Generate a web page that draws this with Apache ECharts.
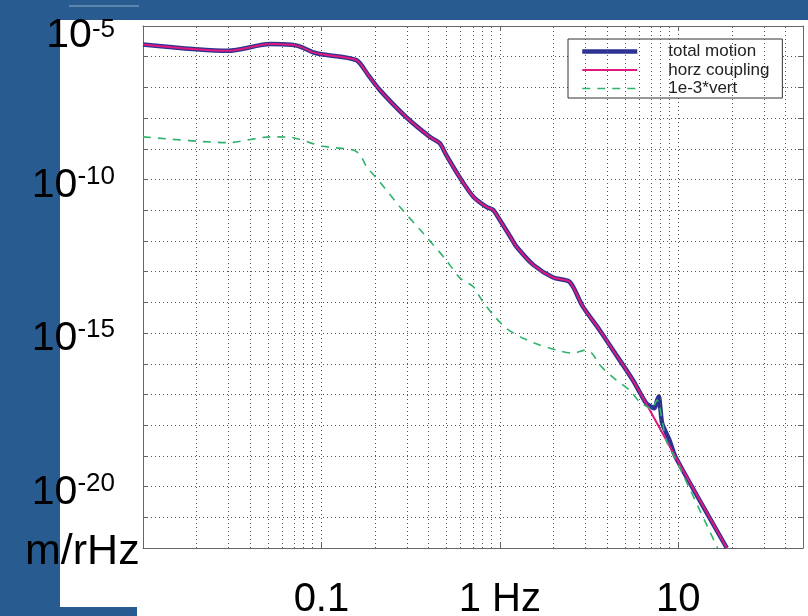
<!DOCTYPE html>
<html><head><meta charset="utf-8">
<script src="https://cdn.jsdelivr.net/npm/echarts@6/dist/echarts.min.js"></script>
<style>html,body{margin:0;padding:0;background:#285b8f;} #c{width:808px;height:616px;}</style>
</head><body><div id="c"></div>
<script>
// Frequencies in Hz; amplitudes as log10(m/rHz)
const freqTotal = [0.01,0.03,0.0516,0.068,0.076,0.090,0.1,0.157,0.183,0.212,0.30,0.405,0.461,0.50,0.60,0.71,0.84,0.917,1.0,1.16,1.24,1.54,1.99,2.41,2.57,2.92,3.62,4.30,5.56,6.61,7.05,7.36,7.6,7.78,7.95,8.13,8.93,9.64,18.7];
const totalLog = [-5.60,-5.81,-5.59,-5.61,-5.67,-5.86,-5.92,-6.11,-6.60,-7.08,-7.98,-8.61,-8.82,-9.20,-9.96,-10.56,-10.89,-10.99,-11.32,-11.92,-12.19,-12.78,-13.19,-13.30,-13.49,-14.14,-14.90,-15.55,-16.53,-17.29,-17.40,-17.45,-17.20,-17.07,-17.50,-17.95,-18.49,-19.03,-22.0];

const freqHorz = [0.01,0.03,0.0516,0.068,0.076,0.090,0.1,0.157,0.183,0.212,0.30,0.405,0.461,0.50,0.60,0.71,0.84,0.917,1.0,1.16,1.24,1.54,1.99,2.41,2.57,2.92,3.62,4.30,5.56,7.36,9.64,18.7];
const horzLog = [-5.60,-5.81,-5.59,-5.61,-5.67,-5.86,-5.92,-6.11,-6.60,-7.08,-7.98,-8.61,-8.82,-9.20,-9.96,-10.56,-10.89,-10.99,-11.32,-11.92,-12.19,-12.78,-13.19,-13.30,-13.49,-14.14,-14.90,-15.55,-16.53,-17.79,-19.03,-22.0];

const freqVert = [0.01,0.03,0.0516,0.068,0.1,0.151,0.165,0.179,0.212,0.275,0.372,0.50,0.60,0.71,0.79,0.917,1.09,1.35,1.67,2.16,2.57,3.05,3.28,3.71,4.49,5.33,6.06,6.90,7.05,7.6,8.55,9.73,16.6];
const vertLog = [-8.61,-8.80,-8.61,-8.63,-8.91,-9.04,-9.20,-9.58,-10.07,-10.89,-11.75,-12.62,-13.22,-13.49,-13.92,-14.41,-14.85,-15.17,-15.39,-15.58,-15.66,-15.55,-15.66,-16.10,-16.53,-16.86,-17.24,-17.45,-17.51,-17.18,-18.49,-19.14,-22.0];

const seriesNames = ['total motion','horz coupling','1e-3*vert'];
const xTickLabels = {'-1':'0.1','0':'1 Hz','1':'10'};
const yLabelExps = [-5,-10,-15,-20];
const freqMin = 0.01, freqMax = 50;
const ampMinExp = -22, ampMaxExp = -5;

const BLUE = '#2b3291', MAGENTA = '#e0197f', GREEN = '#2fb36c', BG = '#285b8f';

function pts(f, a){ return f.map((v,i)=>[Math.log10(v), a[i]]); }

const minorGrid = [];
for (let d = -2; d <= 1; d++) {
  for (let k = 2; k <= 9; k++) {
    const v = k * Math.pow(10, d);
    if (v < freqMax) minorGrid.push({xAxis: Math.log10(v)});
  }
}

const gridLine = {show:true, lineStyle:{color:'#555', type:[1,3], width:1}};
const FONT = '"Liberation Sans", Arial, sans-serif';
const axisLineStyle = {show:true, onZero:false, lineStyle:{color:'#666', width:1}};
const tickStyle = {show:true, inside:true, length:5, lineStyle:{color:'#666'}};

const chart = echarts.init(document.getElementById('c'), null, {renderer:'canvas'});
chart.setOption({
  backgroundColor: BG,
  animation: false,
  textStyle: {fontFamily: FONT},
  graphic: [
    {type:'rect', z:-10, shape:{x:60,y:20,width:748,height:596}, style:{fill:'#fff'}},
    {type:'rect', z:-9, shape:{x:60,y:607,width:77,height:9}, style:{fill:BG}},
    {type:'rect', z:-9, shape:{x:69,y:5,width:70,height:2}, style:{fill:'#5c84ad'}},
    {type:'text', z:10, x:25, y:552, style:{text:'m/rHz', fill:'#000', font:'43px ' + FONT, verticalAlign:'middle', align:'left'}}
  ],
  grid: {left:143, right:5, top:26, bottom:68, containLabel:false, outerBoundsMode:'none'},
  legend: {
    data: seriesNames,
    orient: 'vertical', left: 568, top: 39,
    itemWidth: 55, itemHeight: 14, itemGap: 1.5,
    padding: [4,13,1,12],
    backgroundColor: '#fff', borderColor: '#333', borderWidth: 1, borderRadius: 0,
    itemStyle: {opacity: 0, borderWidth: 0},
    lineStyle: {width: 'inherit'},
    textStyle: {fontSize: 17, color: '#222', padding: [0,0,0,26], fontFamily: FONT},
    selectedMode: false
  },
  xAxis: [{
    type:'value', min: Math.log10(freqMin), max: Math.log10(freqMax), interval: 1,
    axisLine: axisLineStyle, axisTick: tickStyle,
    splitLine: gridLine,
    axisLabel:{margin:32, color:'#000', fontSize:40, fontFamily:FONT,
      formatter: v => xTickLabels[String(Math.round(v*1000)/1000)] || ''}
  },{
    type:'value', position:'top', min: Math.log10(freqMin), max: Math.log10(freqMax), interval: 1,
    axisLine: axisLineStyle, axisTick: tickStyle,
    splitLine:{show:false}, axisLabel:{show:false}
  }],
  yAxis: [{
    type:'value', min: ampMinExp, max: ampMaxExp, interval: 1,
    axisLine: axisLineStyle, axisTick: tickStyle,
    splitLine: gridLine,
    axisLabel:{margin:28, color:'#000', padding:[12,0,0,0],
      formatter: v => yLabelExps.indexOf(v) >= 0 ? (v === ampMaxExp ? '{bt|10}{st|' + v + '}' : '{b|10}{s|' + v + '}') : '',
      rich:{
        b:{fontSize:41, fontFamily:FONT, color:'#000', lineHeight:44},
        s:{fontSize:26, fontFamily:FONT, color:'#000', verticalAlign:'top', lineHeight:26},
        bt:{fontSize:41, fontFamily:FONT, color:'#000', lineHeight:44, padding:[7,0,0,0]},
        st:{fontSize:26, fontFamily:FONT, color:'#000', verticalAlign:'top', lineHeight:26, padding:[7,0,0,0]}
      }}
  },{
    type:'value', position:'right', min: ampMinExp, max: ampMaxExp, interval: 1,
    axisLine: axisLineStyle, axisTick: tickStyle,
    splitLine:{show:false}, axisLabel:{show:false}
  }],
  series: [
    {name:'grid', type:'line', data:[], silent:true, z:1,
      markLine:{silent:true, symbol:['none','none'], label:{show:false}, animation:false,
        lineStyle:{color:'#555', type:[1,3], width:1}, emphasis:{disabled:true}, data: minorGrid}},
    {name:seriesNames[0], type:'line', data: pts(freqTotal,totalLog), symbol:'none', showSymbol:false,
      smooth:0.25, z:3, silent:true,
      lineStyle:{color:BLUE, width:4.5}, itemStyle:{color:BLUE}},
    {name:seriesNames[1], type:'line', data: pts(freqHorz,horzLog), symbol:'none', showSymbol:false,
      smooth:0.25, z:4, silent:true,
      lineStyle:{color:MAGENTA, width:2}, itemStyle:{color:MAGENTA}},
    {name:seriesNames[2], type:'line', data: pts(freqVert,vertLog), symbol:'none', showSymbol:false,
      smooth:0.25, z:5, silent:true,
      lineStyle:{color:GREEN, width:1.6, type:[8,7]}, itemStyle:{color:GREEN}}
  ]
});
</script></body></html>
